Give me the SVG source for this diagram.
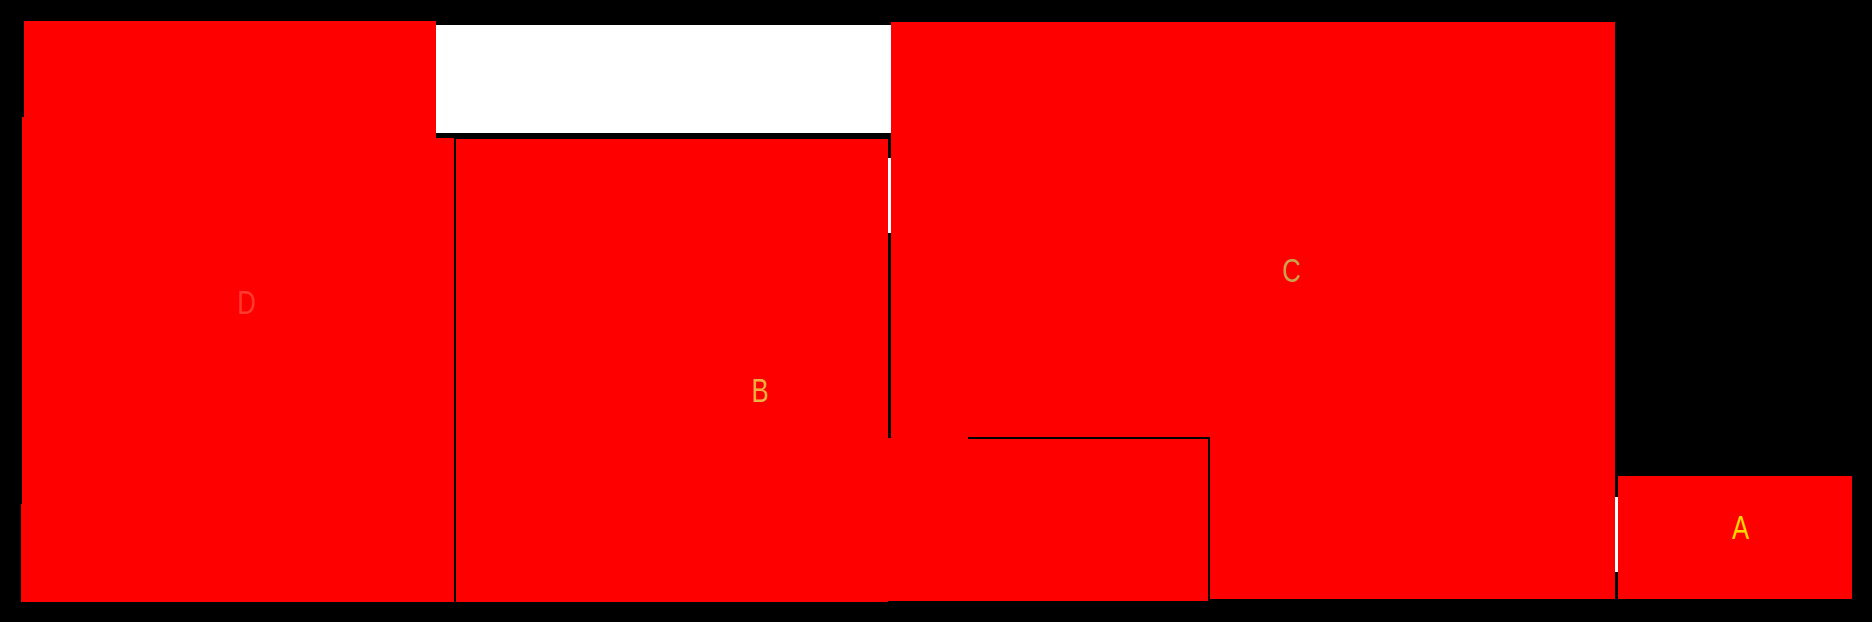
<svg xmlns="http://www.w3.org/2000/svg" width="1872" height="622" viewBox="0 0 1872 622">
  <style>
    .box { fill: #ff0000; stroke: none; }
    .blank { fill: #ffffff; stroke: none; }
    .edge { fill: #000000; stroke: none; }
    .lbl { font-family: "Liberation Sans", Arial, sans-serif; font-size: 33px; text-anchor: middle; }
  </style>
  <rect x="0" y="0" width="1872" height="622" fill="#000000"/>
  <g id="node-top">
    <rect class="blank" x="436" y="25" width="455" height="108"/>
  </g>
  <g id="node-D">
    <polygon class="box" points="24,21 436,21 436,138 454,138 454,602 21,602 21,504 22,504 22,117 24,117"/>
    <g transform="translate(246.5,314) scale(0.78,1)"><text class="lbl" x="0" y="0" fill="#ff3b30">D</text></g>
  </g>
  <g id="node-B">
    <rect class="box" x="456" y="139" width="432" height="463"/>
  </g>
  <g id="node-C">
    <rect class="box" x="891" y="22" width="724" height="577"/>
    <g transform="translate(1291.5,282) scale(0.78,1)"><text class="lbl" x="0" y="0" fill="#c9a44c">C</text></g>
  </g>
  <g id="node-B-ext">
    <rect class="box" x="456" y="438" width="754" height="163"/>
    <rect class="edge" x="968" y="437" width="242" height="2"/>
    <rect class="edge" x="1208" y="437" width="2" height="164"/>
    <g transform="translate(760,402) scale(0.78,1)"><text class="lbl" x="0" y="0" fill="#eeb040">B</text></g>
  </g>
  <g id="node-A">
    <rect class="box" x="1618" y="476" width="234" height="123"/>
    <g transform="translate(1740.5,539) scale(0.78,1)"><text class="lbl" x="0" y="0" fill="#ffd700">A</text></g>
  </g>
  <g id="connectors">
    <rect class="blank" x="888" y="158" width="3" height="75"/>
    <rect class="blank" x="1615" y="497" width="3" height="75"/>
  </g>
</svg>
